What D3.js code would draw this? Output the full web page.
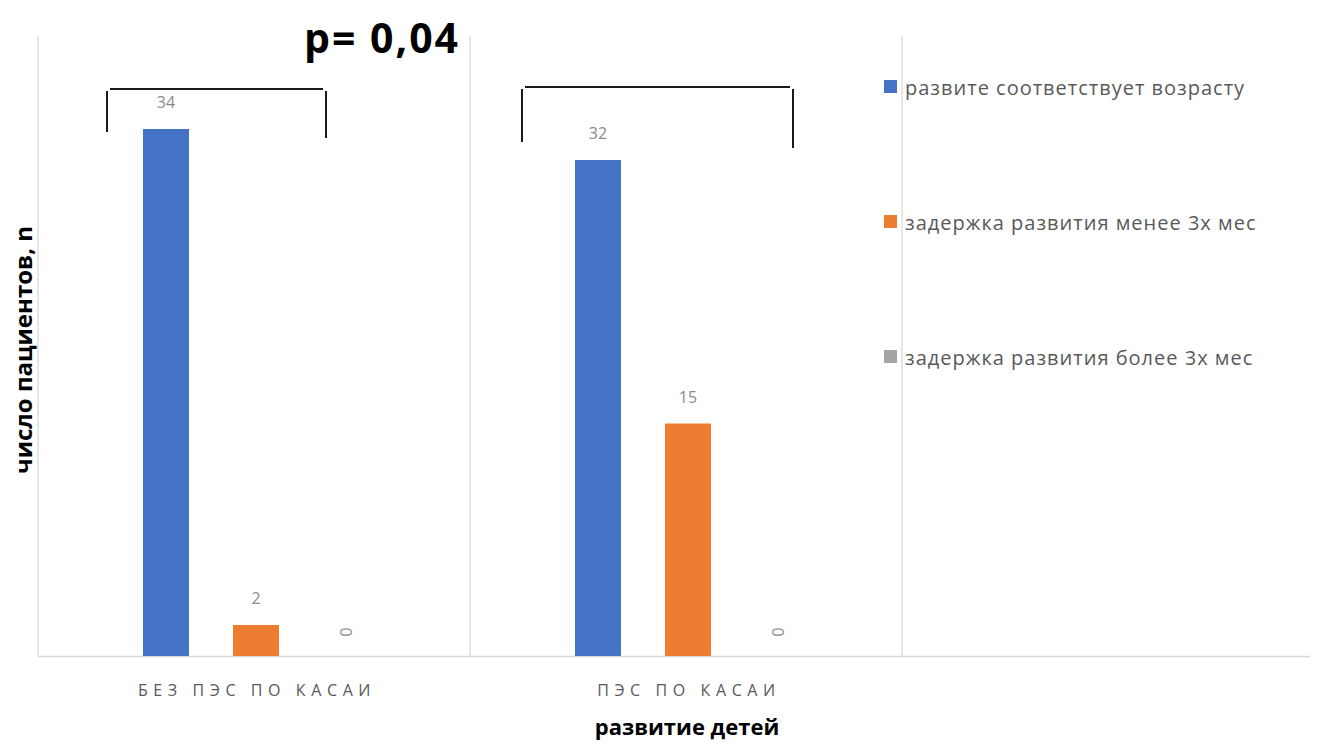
<!DOCTYPE html>
<html>
<head>
<meta charset="utf-8">
<script src="https://cdn.jsdelivr.net/npm/d3@7/dist/d3.min.js"></script>
<style>
  html, body { margin: 0; padding: 0; background: #fff; }
  svg { display: block; }
</style>
</head>
<body>
<svg id="chart" width="1325" height="744"></svg>
<script>
// Children's development by group (число пациентов, n)
const categories = ["БЕЗ ПЭС ПО КАСАИ", "ПЭС ПО КАСАИ"];
const seriesNames = [
  "развите соответствует возрасту",
  "задержка развития менее 3х мес",
  "задержка развития более 3х мес"
];
const seriesColors = ["#4472C4", "#ED7D31", "#A5A5A5"];
const developedNormally = [34, 32];
const delayUnder3m = [2, 15];
const delayOver3m = [0, 0];
const seriesValues = [developedNormally, delayUnder3m, delayOver3m];
const pValueLabel = "p= 0,04";

const svg = d3.select("#chart");
const plot = { left: 38, right: 1310, top: 36, bottom: 656 };
const catWidth = 432;

// Category bands (two filled groups; the third slot holds the legend)
const x = d3.scaleBand()
  .domain(categories)
  .range([plot.left, plot.left + catWidth * categories.length])
  .padding(0);

const xInner = d3.scaleBand()
  .domain(d3.range(seriesNames.length))
  .range([105, 331])
  .paddingInner(0.489)
  .paddingOuter(0);

const y = d3.scaleLinear().domain([0, 40]).range([plot.bottom, plot.top]);

// Vertical gridlines at category boundaries
const gridXs = [plot.left, plot.left + catWidth, plot.left + 2 * catWidth];
svg.append("g").selectAll("line").data(gridXs).join("line")
  .attr("x1", d => d).attr("x2", d => d)
  .attr("y1", plot.top).attr("y2", plot.bottom)
  .attr("stroke", "#d9d9d9").attr("stroke-width", 1.3);

// Baseline
svg.append("line")
  .attr("x1", plot.left).attr("x2", plot.right)
  .attr("y1", plot.bottom + 0.5).attr("y2", plot.bottom + 0.5)
  .attr("stroke", "#d9d9d9").attr("stroke-width", 1.5);

// Bars and value labels
const rows = [];
categories.forEach((c, ci) => {
  seriesValues.forEach((vals, si) => {
    rows.push({ cat: c, s: si, v: vals[ci] });
  });
});

const g = svg.append("g");
g.selectAll("rect.bar").data(rows).join("rect")
  .attr("class", "bar")
  .attr("x", d => x(d.cat) + xInner(d.s))
  .attr("width", xInner.bandwidth())
  .attr("y", d => y(d.v))
  .attr("height", d => y(0) - y(d.v))
  .attr("fill", d => seriesColors[d.s]);

g.selectAll("text.val").data(rows).join("text")
  .attr("class", "val")
  .attr("transform", d => {
    const cx = x(d.cat) + xInner(d.s) + xInner.bandwidth() / 2;
    if (d.v === 0) return `translate(${cx},${y(0) - 24}) rotate(90)`;
    return `translate(${cx},${y(d.v) - 21})`;
  })
  .attr("text-anchor", "middle")
  .attr("dominant-baseline", d => d.v === 0 ? "central" : "auto")
  .attr("font-family", "'Open Sans', sans-serif")
  .attr("font-size", 16)
  .attr("fill", "#8a8a8a")
  .text(d => d.v);

// Category labels
svg.append("g").selectAll("text").data(categories).join("text")
  .attr("x", d => x(d) + x.bandwidth() / 2 + 3)
  .attr("y", 696)
  .attr("text-anchor", "middle")
  .attr("font-family", "'Open Sans', sans-serif")
  .attr("font-size", 16)
  .attr("letter-spacing", "5.6px")
  .attr("fill", "#595959")
  .text(d => d);

// Axis titles
svg.append("text")
  .attr("x", 687).attr("y", 735)
  .attr("text-anchor", "middle")
  .attr("font-family", "'Open Sans', sans-serif")
  .attr("font-weight", "bold")
  .attr("font-size", 22)
  .attr("fill", "#000")
  .text("развитие детей");

svg.append("text")
  .attr("transform", "translate(32,350) rotate(-90)")
  .attr("text-anchor", "middle")
  .attr("font-family", "'Open Sans', sans-serif")
  .attr("font-weight", "bold")
  .attr("font-size", 24)
  .attr("fill", "#000")
  .text("число пациентов, n");

// Significance brackets over each group
const brackets = [
  { x1: 107, x2: 326, top: 89, l: 132, r: 138 },
  { x1: 522, x2: 793, top: 87, l: 142, r: 148 }
];
const bg = svg.append("g").attr("stroke", "#1a1a1a").attr("stroke-width", 2).attr("fill", "none");
brackets.forEach(b => {
  bg.append("path").attr("d", `M${b.x1},${b.l} V${b.top + 2}`);
  bg.append("path").attr("d", `M${b.x1 + 3},${b.top} H${b.x2 - 3}`);
  bg.append("path").attr("d", `M${b.x2},${b.top + 2} V${b.r}`);
});

svg.append("text")
  .attr("x", 304).attr("y", 53)
  .attr("font-family", "'Open Sans', sans-serif")
  .attr("font-weight", "bold")
  .attr("font-size", 41)
  .attr("letter-spacing", "2px")
  .attr("fill", "#000")
  .text(pValueLabel);

// Legend
const legend = svg.append("g").attr("transform", "translate(884,0)");
const legendYs = [87, 222, 357];
seriesNames.forEach((name, i) => {
  legend.append("rect")
    .attr("x", 0).attr("y", legendYs[i] - 7)
    .attr("width", 13).attr("height", 13)
    .attr("fill", seriesColors[i]);
  legend.append("text")
    .attr("x", 21).attr("y", legendYs[i])
    .attr("dominant-baseline", "central")
    .attr("font-family", "'Open Sans', sans-serif")
    .attr("font-size", 20)
    .attr("letter-spacing", "1px")
    .attr("fill", "#595959")
    .text(name);
});
</script>
</body>
</html>
